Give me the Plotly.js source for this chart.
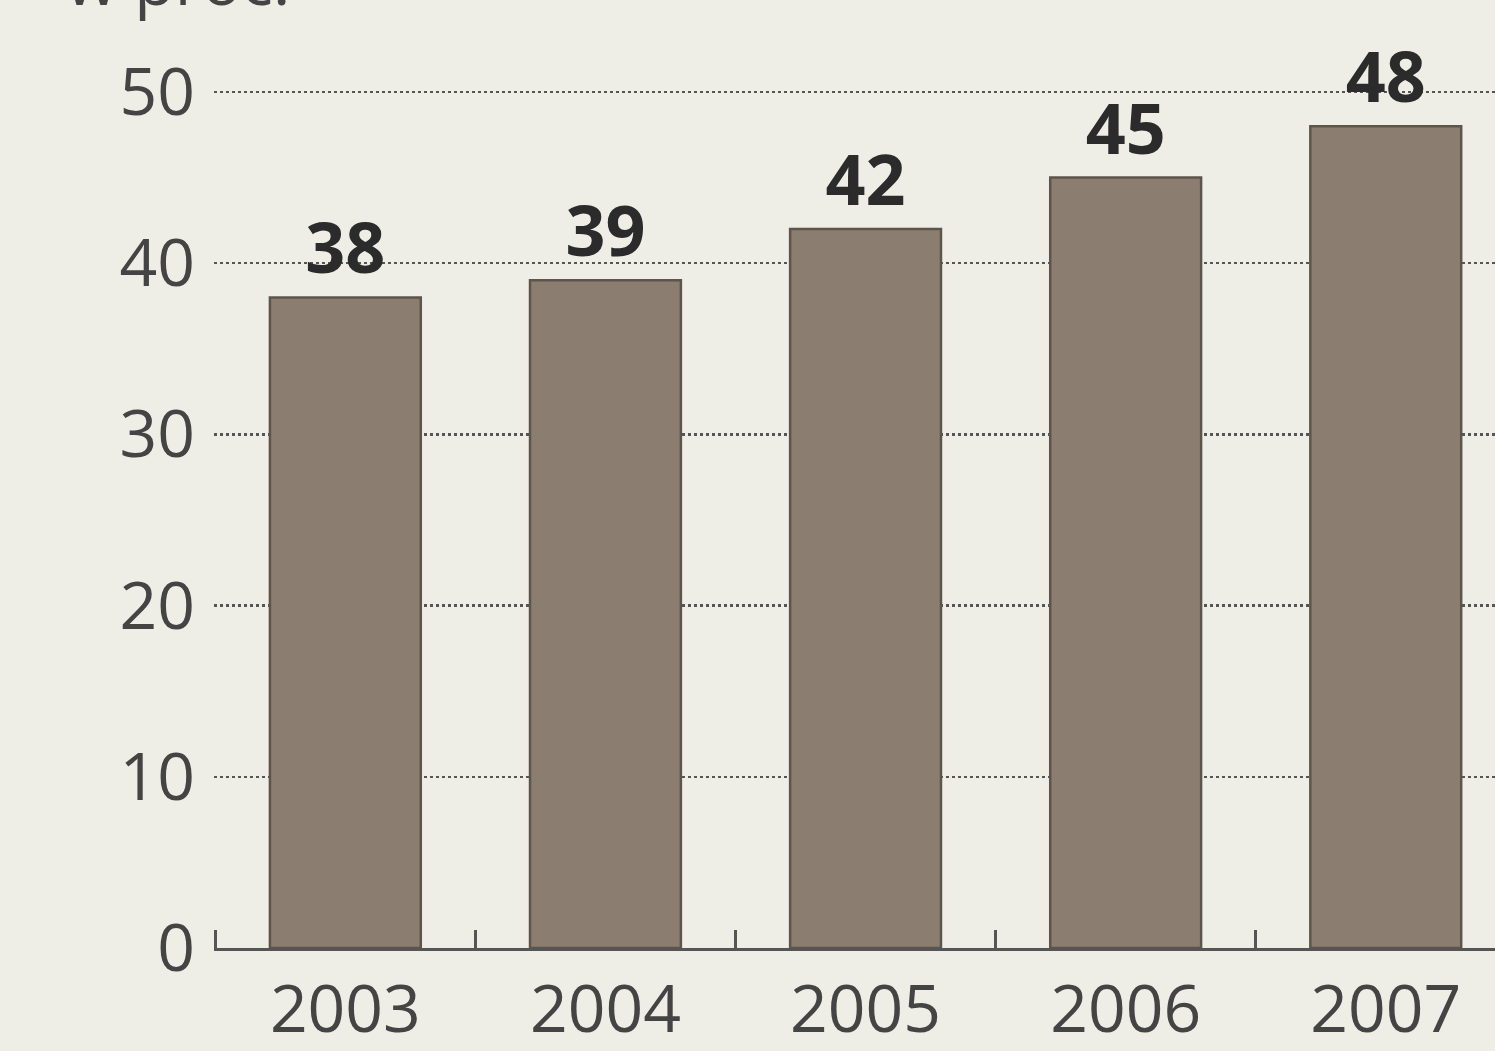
<!DOCTYPE html>
<html>
<head>
<meta charset="utf-8">
<script src="https://cdn.plot.ly/plotly-3.0.1.min.js"></script>
<style>html,body{margin:0;padding:0;background:#eeede6;}</style>
</head>
<body>
<div id="chart" style="width:1495px;height:1051px;"></div>
<script>
const years = ['2003', '2004', '2005', '2006', '2007'];
const values = [38, 39, 42, 45, 48];
const yTicks = [0, 10, 20, 30, 40, 50];
const unitLabel = 'w proc.';

const trace = {
  type: 'bar',
  x: years,
  y: values,
  text: values.map(String),
  textposition: 'outside',
  cliponaxis: false,
  textfont: {family: 'Open Sans', size: 70, color: '#2b2b2b', weight: 'bold'},
  marker: {color: '#8b7e70', line: {color: '#5c554b', width: 2.5}},
  hoverinfo: 'none'
};

const layout = {
  width: 1495, height: 1051,
  margin: {l: 214, r: 0, t: 80, b: 103},
  paper_bgcolor: '#eeede6',
  plot_bgcolor: '#eeede6',
  bargap: 0.42,
  showlegend: false,
  font: {family: 'Open Sans', color: '#444'},
  xaxis: {
    type: 'category',
    range: [-0.505, 4.42],
    tickson: 'boundaries',
    ticks: 'inside',
    ticklen: 18,
    tickwidth: 2.5,
    tickcolor: '#555',
    showline: true,
    linecolor: '#555',
    linewidth: 3,
    showgrid: false,
    ticklabelstandoff: 2,
    tickfont: {family: 'Open Sans', size: 66, color: '#444'}
  },
  yaxis: {
    range: [0, 50.7],
    tickvals: yTicks,
    ticktext: yTicks.map(String),
    showgrid: true,
    gridcolor: '#555',
    griddash: 'dot',
    gridwidth: 2.5,
    zeroline: false,
    showline: false,
    ticks: '',
    ticklabelstandoff: 18,
    tickfont: {family: 'Open Sans', size: 66, color: '#444'}
  },
  annotations: [{
    text: unitLabel,
    xref: 'paper', yref: 'paper',
    x: -0.117, y: 1.062,
    xanchor: 'left', yanchor: 'bottom',
    showarrow: false,
    font: {family: 'Open Sans', size: 66, color: '#444'}
  }]
};

Plotly.newPlot('chart', [trace], layout, {displayModeBar: false, staticPlot: true});
</script>
</body>
</html>
